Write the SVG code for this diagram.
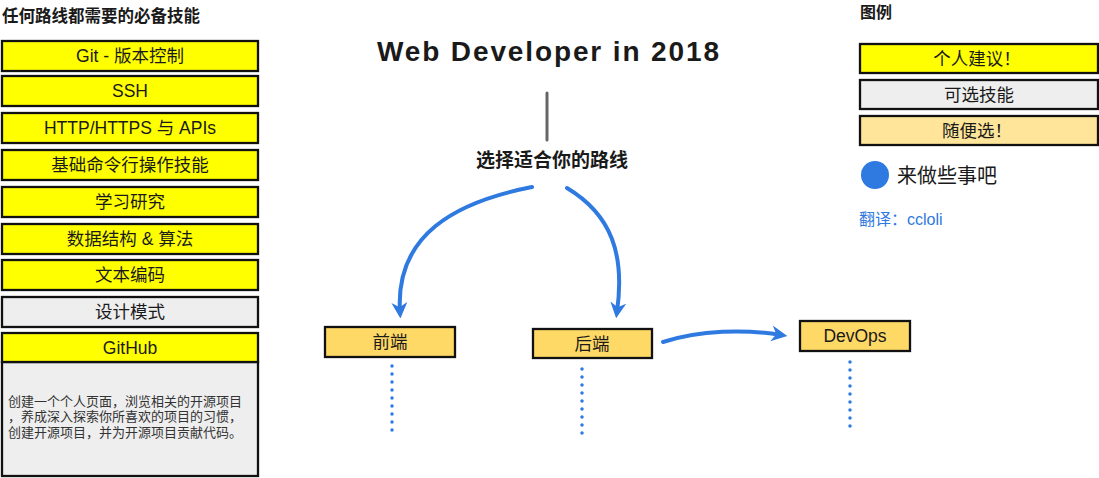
<svg xmlns="http://www.w3.org/2000/svg" width="1099" height="478" viewBox="0 0 1099 478">
<defs>
<style>
.t{font-family:"Liberation Sans","Noto Sans CJK SC",sans-serif;fill:#1a1a1a}
.cj{font-family:"Noto Sans CJK SC","Liberation Sans",sans-serif}
.box{stroke:#111;stroke-width:2.3}
.y{fill:#ffff00}
.g{fill:#eeeeee}
.o{fill:#ffd966}
.lo{fill:#ffe599}
.lbl{font-size:17.5px;text-anchor:middle}
.conn{fill:none;stroke:#2f7ae0;stroke-width:4;stroke-linecap:round}
.dot{fill:none;stroke:#2f7ae0;stroke-width:3.5;stroke-linecap:round;stroke-dasharray:0 8}
</style>
<marker id="ah" viewBox="0 0 10 10" refX="6" refY="5" markerWidth="4" markerHeight="4" orient="auto" markerUnits="strokeWidth">
<path d="M0,0 L10,5 L0,10 L3,5 Z" fill="#2f7ae0"/>
</marker>
</defs>
<rect width="1099" height="478" fill="#fff"/>

<text class="t" x="2" y="22" font-size="16.5" font-weight="bold">任何路线都需要的必备技能</text>

<g id="n-git"><rect class="box y" x="2" y="41" width="256" height="30"/><text class="t lbl" x="130" y="62">Git - 版本控制</text></g>
<g id="n-ssh"><rect class="box y" x="2" y="76" width="256" height="30"/><text class="t lbl" x="130" y="97">SSH</text></g>
<g id="n-http"><rect class="box y" x="2" y="113" width="256" height="30"/><text class="t lbl" x="130" y="134">HTTP/HTTPS 与 APIs</text></g>
<g id="n-cli"><rect class="box y" x="2" y="150" width="256" height="30"/><text class="t lbl" x="130" y="171">基础命令行操作技能</text></g>
<g id="n-research"><rect class="box y" x="2" y="187" width="256" height="30"/><text class="t lbl" x="130" y="208">学习研究</text></g>
<g id="n-ds"><rect class="box y" x="2" y="224" width="256" height="30"/><text class="t lbl" x="130" y="245">数据结构 &amp; 算法</text></g>
<g id="n-enc"><rect class="box y" x="2" y="260" width="256" height="30"/><text class="t lbl" x="130" y="281">文本编码</text></g>
<g id="n-pattern"><rect class="box g" x="2" y="297" width="256" height="30"/><text class="t lbl" x="130" y="318">设计模式</text></g>
<g id="n-github">
<rect class="box g" x="2" y="362" width="256" height="114"/>
<rect class="box y" x="2" y="333" width="256" height="29"/>
<text class="t lbl" x="130" y="354">GitHub</text>
<text class="t" font-size="13" style="fill:#333">
<tspan x="8" y="406">创建一个个人页面，浏览相关的开源项目</tspan>
<tspan x="8" y="421">，养成深入探索你所喜欢的项目的习惯，</tspan>
<tspan x="8" y="437">创建开源项目，并为开源项目贡献代码。</tspan>
</text>
</g>

<g id="title">
<text class="t" x="548" y="61" font-size="28" font-weight="bold" text-anchor="middle" textLength="342">Web Developer in 2018</text>
</g>
<g id="n-choose">
<text class="t" x="552" y="167" font-size="19" font-weight="bold" text-anchor="middle">选择适合你的路线</text>
</g>

<g id="n-frontend"><rect class="box o" x="325" y="327" width="130" height="30"/><text class="t lbl" x="390" y="348">前端</text></g>
<g id="n-backend"><rect class="box o" x="533" y="329" width="119" height="29"/><text class="t lbl" x="592" y="350">后端</text></g>
<g id="n-devops"><rect class="box o" x="800" y="321" width="110" height="30"/><text class="t lbl" x="855" y="342">DevOps</text></g>

<g id="connectors">
<line x1="547" y1="93" x2="547" y2="140" stroke="#666" stroke-width="3" stroke-linecap="round"/>
<path class="conn" d="M532,187 C455,202 395,235 400,312" marker-end="url(#ah)"/>
<path class="conn" d="M567,188 C612,215 625,255 617,312" marker-end="url(#ah)"/>
<path class="conn" d="M663,342 C700,330 745,329 781,335" marker-end="url(#ah)"/>
<line class="dot" x1="392" y1="366" x2="392" y2="432"/>
<line class="dot" x1="582" y1="369" x2="582" y2="434"/>
<line class="dot" x1="850" y1="362" x2="850" y2="434"/>
</g>

<g id="legend">
<text class="t" x="860" y="18" font-size="16" font-weight="bold">图例</text>
<g id="lg-personal"><rect class="box y" x="860" y="44" width="238" height="29"/><text class="t cj lbl" x="977" y="65">个人建议！</text></g>
<g id="lg-optional"><rect class="box g" x="860" y="80" width="238" height="29"/><text class="t lbl" x="979" y="101">可选技能</text></g>
<g id="lg-any"><rect class="box lo" x="860" y="116" width="238" height="29"/><text class="t cj lbl" x="977" y="137">随便选！</text></g>
<g id="lg-do"><circle cx="875" cy="175" r="14" fill="#2f7ae0"/><text class="t" x="897" y="183" font-size="20">来做些事吧</text></g>
<text class="t" x="859" y="225" font-size="16" style="fill:#2f7ae0">翻译：ccloli</text>
</g>
</svg>
